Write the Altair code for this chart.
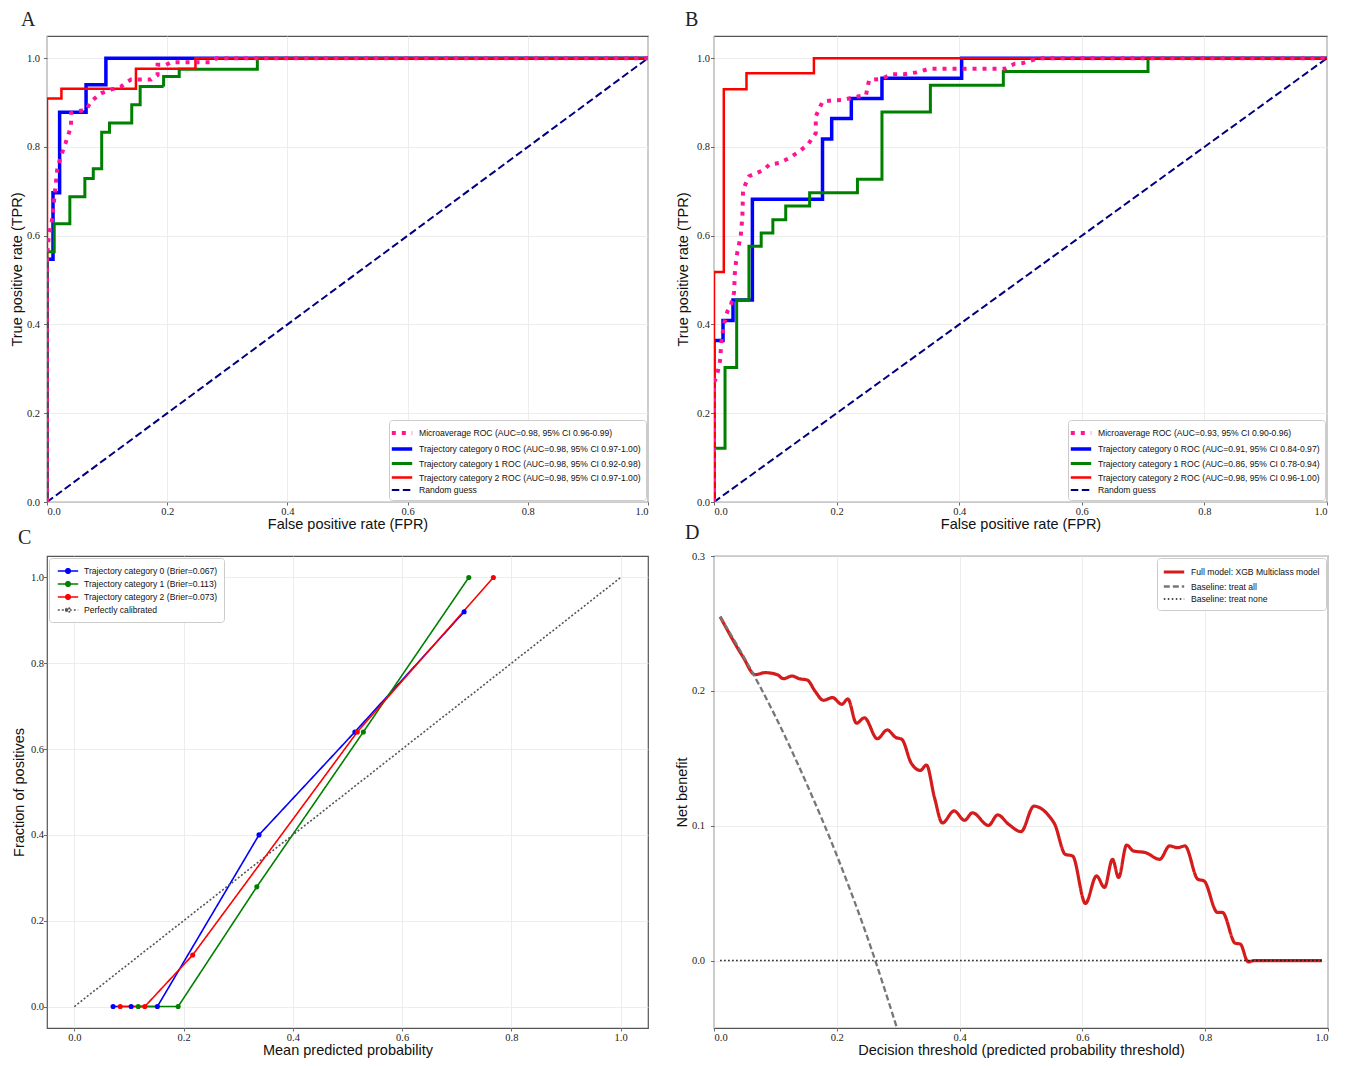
import altair as alt
import pandas as pd

# ---------------- Panel A : ROC (training) ----------------
A_NAMES = [
    "Microaverage ROC (AUC=0.98, 95% CI 0.96-0.99)",
    "Trajectory category 0 ROC (AUC=0.98, 95% CI 0.97-1.00)",
    "Trajectory category 1 ROC (AUC=0.98, 95% CI 0.92-0.98)",
    "Trajectory category 2 ROC (AUC=0.98, 95% CI 0.97-1.00)",
    "Random guess",
]
A_MICRO_FPR = [0.0, 0.0, 0.003, 0.008, 0.012, 0.017, 0.023, 0.031, 0.040, 0.040,
               0.048, 0.065, 0.073, 0.079, 0.090, 0.106, 0.123, 0.134, 0.140, 0.156,
               0.173, 0.184, 0.184, 0.198, 0.207, 0.226, 0.254, 0.273, 0.282, 1.0]
A_MICRO_TPR = [0.0, 0.55, 0.60, 0.632, 0.682, 0.749, 0.779, 0.809, 0.846, 0.876,
               0.880, 0.883, 0.902, 0.909, 0.921, 0.929, 0.936, 0.947, 0.952, 0.952,
               0.952, 0.962, 0.985, 0.985, 0.991, 0.991, 0.991, 0.991, 1.0, 1.0]
A_C0_FPR = [0.0, 0.0, 0.010, 0.010, 0.021, 0.021, 0.065, 0.065, 0.098, 0.098, 1.0]
A_C0_TPR = [0.0, 0.547, 0.547, 0.697, 0.697, 0.878, 0.878, 0.940, 0.940, 1.0, 1.0]
A_C1_FPR = [0.0, 0.0, 0.012, 0.012, 0.038, 0.038, 0.063, 0.063, 0.077, 0.077, 0.091, 0.091,
            0.104, 0.104, 0.141, 0.141, 0.155, 0.155, 0.194, 0.194, 0.220, 0.220, 0.350, 0.350, 1.0]
A_C1_TPR = [0.0, 0.564, 0.564, 0.627, 0.627, 0.688, 0.688, 0.729, 0.729, 0.751, 0.751, 0.833,
            0.833, 0.854, 0.854, 0.895, 0.895, 0.936, 0.936, 0.959, 0.959, 0.975, 0.975, 1.0, 1.0]
A_C2_FPR = [0.0, 0.0, 0.024, 0.024, 0.148, 0.148, 0.247, 0.247, 1.0]
A_C2_TPR = [0.0, 0.909, 0.909, 0.931, 0.931, 0.976, 0.976, 1.0, 1.0]

# ---------------- Panel B : ROC (validation) ----------------
B_NAMES = [
    "Microaverage ROC (AUC=0.93, 95% CI 0.90-0.96)",
    "Trajectory category 0 ROC (AUC=0.91, 95% CI 0.84-0.97)",
    "Trajectory category 1 ROC (AUC=0.86, 95% CI 0.78-0.94)",
    "Trajectory category 2 ROC (AUC=0.98, 95% CI 0.96-1.00)",
    "Random guess",
]
B_MICRO_FPR = [0.0, 0.0, 0.004, 0.0098, 0.012, 0.016, 0.022, 0.0273, 0.0327, 0.0343,
               0.038, 0.0436, 0.0463, 0.0474, 0.0572, 0.071, 0.082, 0.090, 0.106, 0.123,
               0.139, 0.153, 0.166, 0.166, 0.177, 0.193, 0.210, 0.232, 0.248, 0.253,
               0.272, 0.291, 0.310, 0.330, 0.351, 0.449, 0.474, 0.490, 0.504, 0.530, 1.0]
B_MICRO_TPR = [0.0, 0.27, 0.28, 0.318, 0.36, 0.40, 0.43, 0.442, 0.472, 0.524,
               0.562, 0.599, 0.644, 0.704, 0.734, 0.742, 0.749, 0.760, 0.764, 0.775,
               0.790, 0.805, 0.831, 0.869, 0.902, 0.905, 0.906, 0.913, 0.917, 0.951,
               0.953, 0.964, 0.964, 0.968, 0.976, 0.976, 0.976, 0.987, 0.989, 1.0, 1.0]
B_C0_FPR = [0.0, 0.0, 0.0147, 0.0147, 0.031, 0.031, 0.0626, 0.0626, 0.177, 0.177,
            0.192, 0.192, 0.224, 0.224, 0.274, 0.274, 0.404, 0.404, 1.0]
B_C0_TPR = [0.0, 0.364, 0.364, 0.409, 0.409, 0.455, 0.455, 0.682, 0.682, 0.818,
            0.818, 0.864, 0.864, 0.909, 0.909, 0.955, 0.955, 1.0, 1.0]
B_C1_FPR = [0.0, 0.0, 0.018, 0.018, 0.037, 0.037, 0.057, 0.057, 0.077, 0.077, 0.096, 0.096,
            0.117, 0.117, 0.156, 0.156, 0.234, 0.234, 0.274, 0.274, 0.353, 0.353, 0.472, 0.472,
            0.708, 0.708, 1.0]
B_C1_TPR = [0.0, 0.121, 0.121, 0.303, 0.303, 0.455, 0.455, 0.576, 0.576, 0.606, 0.606, 0.636,
            0.636, 0.667, 0.667, 0.697, 0.697, 0.727, 0.727, 0.879, 0.879, 0.939, 0.939, 0.970,
            0.970, 1.0, 1.0]
B_C2_FPR = [0.0, 0.0, 0.016, 0.016, 0.053, 0.053, 0.163, 0.163, 1.0]
B_C2_TPR = [0.0, 0.518, 0.518, 0.930, 0.930, 0.966, 0.966, 1.0, 1.0]

RANDOM_X = [0.0, 1.0]
RANDOM_Y = [0.0, 1.0]

ROC_COLORS = ["#ff1493", "#0000ff", "#008000", "#ff0000", "#000080"]
ROC_DASHES = [[4, 6], [1, 0], [1, 0], [1, 0], [7.5, 3.5]]
ROC_WIDTHS = [4, 2, 2, 2, 2]

# ---------------- Panel C : calibration ----------------
C_NAMES = [
    "Trajectory category 0 (Brier=0.067)",
    "Trajectory category 1 (Brier=0.113)",
    "Trajectory category 2 (Brier=0.073)",
    "Perfectly calibrated",
]
C0_X = [0.071, 0.104, 0.152, 0.338, 0.5135, 0.7135]
C0_Y = [0.0, 0.0, 0.0, 0.40, 0.64, 0.92]
C1_X = [0.117, 0.190, 0.334, 0.529, 0.722]
C1_Y = [0.0, 0.0, 0.279, 0.64, 1.0]
C2_X = [0.084, 0.129, 0.2166, 0.518, 0.767]
C2_Y = [0.0, 0.0, 0.12, 0.64, 1.0]
DIAG_X = [0.0, 1.0]
DIAG_Y = [0.0, 1.0]
C_COLORS = ["#0000ff", "#008000", "#ff0000", "#555555"]
C_DASHES = [[1, 0], [1, 0], [1, 0], [2, 2]]
C_WIDTHS = [1.6, 1.6, 1.6, 1.0]

# ---------------- Panel D : decision curve ----------------
D_NAMES = ["Full model: XGB Multiclass model", "Baseline: treat all", "Baseline: treat none"]
D_THR = [0.01, 0.047, 0.067, 0.083, 0.103, 0.113, 0.127, 0.139, 0.152, 0.165,
         0.178, 0.193, 0.208, 0.218, 0.232, 0.245, 0.266, 0.282, 0.296, 0.306,
         0.321, 0.336, 0.346, 0.359, 0.372, 0.391, 0.408, 0.421, 0.447, 0.462,
         0.480, 0.500, 0.521, 0.546, 0.555, 0.572, 0.584, 0.605, 0.623, 0.636,
         0.649, 0.659, 0.672, 0.683, 0.703, 0.726, 0.742, 0.755, 0.767, 0.788,
         0.798, 0.820, 0.828, 0.849, 0.857, 0.870, 0.880, 0.99]
D_NB = [0.255, 0.2254, 0.212, 0.2135, 0.212, 0.209, 0.211, 0.209, 0.208, 0.1995,
        0.193, 0.195, 0.190, 0.194, 0.176, 0.180, 0.1645, 0.171, 0.1655, 0.164,
        0.1466, 0.141, 0.145, 0.121, 0.102, 0.111, 0.104, 0.1096, 0.1002, 0.108,
        0.101, 0.0956, 0.1145, 0.107, 0.101, 0.0788, 0.0776, 0.0424, 0.0628, 0.0542,
        0.0751, 0.0616, 0.0857, 0.0813, 0.080, 0.0751, 0.085, 0.0837, 0.085, 0.0603,
        0.0591, 0.0357, 0.0357, 0.0128, 0.0123, -0.001, 0.0, 0.0]
ALL_THR = [0.01, 0.05, 0.10, 0.15, 0.20, 0.25, 0.30]
ALL_NB = [0.255, 0.224, 0.181, 0.132, 0.078, 0.017, -0.053]
NONE_THR = [0.01, 0.99]
NONE_NB = [0.0, 0.0]
D_COLORS = ["#d41c1c", "#777777", "#111111"]
D_DASHES = [[1, 0], [6, 3], [1.5, 2.5]]
D_WIDTHS = [3.2, 1.4, 1.4]

TICKS = [0.0, 0.2, 0.4, 0.6, 0.8, 1.0]
D_YTICKS = [0.0, 0.1, 0.2, 0.3]

LINE_PATH = "M-1.7,0L1.7,0"
DOT_PATH = ("M-1.7,0L1.7,0M-0.38,0A0.38,0.38,0,1,1,0.38,0A0.38,0.38,0,1,1,-0.38,0"
            "M-0.16,0A0.16,0.16,0,1,1,0.16,0A0.16,0.16,0,1,1,-0.16,0")


def long_frame(names, curves):
    rows = []
    for name, (xs, ys) in zip(names, curves):
        for i, (x, y) in enumerate(zip(xs, ys)):
            rows.append({"series": name, "x": x, "y": y, "i": i})
    return pd.DataFrame(rows)


def make_legend(orient, symbol=LINE_PATH, sym_offset=0, pad=5):
    return alt.Legend(
        title=None, orient=orient, offset=2, fillColor="white", strokeColor="#cccccc",
        cornerRadius=3, padding=pad, labelFont="Liberation Sans", labelFontSize=8.6,
        labelColor="#111", labelLimit=400, symbolType=symbol, symbolSize=144,
        symbolOffset=sym_offset, labelOffset=9, rowPadding=0)


def roc_panel(names, draw_order, curves, letter, width, height, ylab_pad, ytitle_pad, dx):
    df = long_frame(draw_order, curves)
    leg = make_legend("bottom-right")
    return alt.Chart(df).mark_line(clip=True).encode(
        x=alt.X("x:Q", scale=alt.Scale(domain=[0, 1], nice=False, zero=False),
                axis=alt.Axis(values=TICKS, format=".1f", title="False positive rate (FPR)",
                              tickSize=3, labelPadding=1, titlePadding=1)),
        y=alt.Y("y:Q", scale=alt.Scale(domain=[0, 1.05], nice=False, zero=False),
                axis=alt.Axis(values=TICKS, format=".1f", title="True positive rate (TPR)",
                              labelPadding=ylab_pad, titlePadding=ytitle_pad)),
        color=alt.Color("series:N", scale=alt.Scale(domain=names, range=ROC_COLORS), legend=leg),
        strokeDash=alt.StrokeDash("series:N", scale=alt.Scale(domain=names, range=ROC_DASHES), legend=leg),
        strokeWidth=alt.StrokeWidth("series:N", scale=alt.Scale(domain=names, range=ROC_WIDTHS), legend=leg),
        order="i:Q",
    ).properties(
        width=width, height=height,
        title=alt.TitleParams(letter, anchor="start", frame="group", dx=dx, offset=6),
    )


panel_a = roc_panel(
    A_NAMES,
    [A_NAMES[1], A_NAMES[2], A_NAMES[3], A_NAMES[4], A_NAMES[0]],
    [(A_C0_FPR, A_C0_TPR), (A_C1_FPR, A_C1_TPR), (A_C2_FPR, A_C2_TPR),
     (RANDOM_X, RANDOM_Y), (A_MICRO_FPR, A_MICRO_TPR)],
    "A", 601, 466, 4, 2, -26)

panel_b = roc_panel(
    B_NAMES,
    [B_NAMES[1], B_NAMES[2], B_NAMES[3], B_NAMES[4], B_NAMES[0]],
    [(B_C0_FPR, B_C0_TPR), (B_C1_FPR, B_C1_TPR), (B_C2_FPR, B_C2_TPR),
     (RANDOM_X, RANDOM_Y), (B_MICRO_FPR, B_MICRO_TPR)],
    "B", 613, 466, 1, 6, -29)

# ---- Panel C ----
df_c = long_frame(C_NAMES, [(C0_X, C0_Y), (C1_X, C1_Y), (C2_X, C2_Y), (DIAG_X, DIAG_Y)])
c_leg = make_legend("top-left", symbol=DOT_PATH, sym_offset=6, pad=6)
c_x = alt.X("x:Q", scale=alt.Scale(domain=[-0.05, 1.05], nice=False, zero=False),
            axis=alt.Axis(values=TICKS, format=".1f", title="Mean predicted probability",
                          tickSize=3, labelPadding=1, titlePadding=1))
c_y = alt.Y("y:Q", scale=alt.Scale(domain=[-0.05, 1.05], nice=False, zero=False),
            axis=alt.Axis(values=TICKS, format=".1f", title="Fraction of positives",
                          labelPadding=0, titlePadding=4))
c_lines = alt.Chart(df_c).mark_line().encode(
    x=c_x, y=c_y,
    color=alt.Color("series:N", scale=alt.Scale(domain=C_NAMES, range=C_COLORS), legend=c_leg),
    strokeDash=alt.StrokeDash("series:N", scale=alt.Scale(domain=C_NAMES, range=C_DASHES), legend=c_leg),
    strokeWidth=alt.StrokeWidth("series:N", scale=alt.Scale(domain=C_NAMES, range=C_WIDTHS), legend=c_leg),
    order="i:Q",
)
c_points = alt.Chart(df_c).mark_circle(size=26, opacity=1).encode(
    x=c_x, y=c_y,
    fill=alt.Fill("series:N", scale=alt.Scale(domain=C_NAMES[:3], range=C_COLORS[:3]), legend=None),
).transform_filter(alt.datum.series != "Perfectly calibrated")
panel_c = alt.layer(c_lines, c_points).properties(
    width=601, height=472,
    title=alt.TitleParams("C", anchor="start", frame="group", dx=-29, offset=8),
)

# ---- Panel D ----
df_d = long_frame(D_NAMES, [(D_THR, D_NB), (ALL_THR, ALL_NB), (NONE_THR, NONE_NB)])
d_leg = make_legend("top-right", sym_offset=3, pad=6)
panel_d = alt.Chart(df_d).mark_line(clip=True, interpolate="monotone").encode(
    x=alt.X("x:Q", scale=alt.Scale(domain=[0, 1], nice=False, zero=False),
            axis=alt.Axis(values=TICKS, format=".1f",
                          title="Decision threshold (predicted probability threshold)",
                          tickSize=3, labelPadding=1, titlePadding=1)),
    y=alt.Y("y:Q", scale=alt.Scale(domain=[-0.05, 0.3], nice=False, zero=False),
            axis=alt.Axis(values=D_YTICKS, format=".1f", title="Net benefit",
                          labelPadding=6, titlePadding=2)),
    color=alt.Color("series:N", scale=alt.Scale(domain=D_NAMES, range=D_COLORS), legend=d_leg),
    strokeDash=alt.StrokeDash("series:N", scale=alt.Scale(domain=D_NAMES, range=D_DASHES), legend=d_leg),
    strokeWidth=alt.StrokeWidth("series:N", scale=alt.Scale(domain=D_NAMES, range=D_WIDTHS), legend=d_leg),
    order="i:Q",
).properties(
    width=614, height=472,
    title=alt.TitleParams("D", anchor="start", frame="group", dx=-29, offset=8),
)

chart = alt.concat(
    panel_a, panel_b, panel_c, panel_d, columns=2,
    spacing={"row": 54, "column": 66}, bounds="flush", align="each",
).resolve_scale(
    color="independent", strokeDash="independent", strokeWidth="independent", fill="independent",
).resolve_legend(
    color="independent", strokeDash="independent", strokeWidth="independent", fill="independent",
).properties(
    padding={"left": 0, "top": 1, "right": 0, "bottom": 0},
).configure_axis(
    labelFont="Liberation Serif", labelFontSize=10.5, labelColor="#222",
    titleFont="Liberation Sans", titleFontSize=14.5, titleFontWeight="normal", titleColor="#111",
    gridColor="#e8e8e8", gridWidth=0.8, domain=False, tickColor="#444", tickSize=3.5, tickWidth=0.8,
).configure_view(
    stroke="#555555", strokeWidth=1.2,
).configure_title(
    font="Liberation Serif", fontSize=20, fontWeight="normal", color="#222",
)

chart.save("out.html", embed_options={"renderer": "svg", "actions": False})
